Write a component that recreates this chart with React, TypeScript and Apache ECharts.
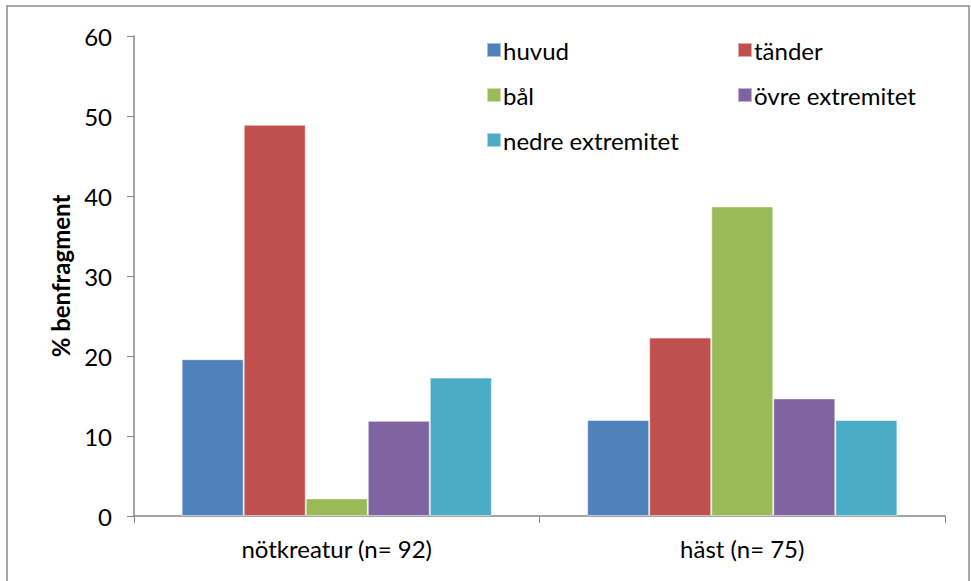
import React, { useEffect, useRef } from "react";
import * as echarts from "echarts";

const categories = ["nötkreatur (n= 92)", "häst (n= 75)"];
const seriesNames = ["huvud", "tänder", "bål", "övre extremitet", "nedre extremitet"];
const huvud = [19.6, 12.0];
const tander = [48.9, 22.3];
const bal = [2.2, 38.7];
const ovre = [11.9, 14.7];
const nedre = [17.3, 12.0];
const colors = ["#4F81BD", "#C0504D", "#9BBB59", "#8064A2", "#4BACC6"];
const yTicks = { min: 0, max: 60, interval: 10 };

const FONT = "Lato";
const FS = 24;

export default function App() {
  const ref = useRef<HTMLDivElement>(null);
  useEffect(() => {
    if (!ref.current) return;
    const chart = echarts.init(ref.current, null, { renderer: "svg" });
    const values = [huvud, tander, bal, ovre, nedre];
    const legendText = { fontSize: FS, fontFamily: FONT, color: "#000", lineHeight: 24, padding: [0, 0, 0, -3] };
    chart.setOption({
      animation: false,
      backgroundColor: "#fff",
      color: colors,
      graphic: [
        {
          type: "rect",
          shape: { x: 7, y: 6, width: 962, height: 600 },
          style: { fill: "none", stroke: "#8c8c8c", lineWidth: 1.5 },
          silent: true,
          z: -10,
        },
      ],
      grid: { left: 134, right: 26, top: 36, bottom: 65, containLabel: false },
      legend: [
        {
          orient: "vertical",
          left: 481,
          top: 33,
          itemWidth: 14,
          itemHeight: 14,
          itemGap: 21,
          icon: "rect",
          data: [seriesNames[0], seriesNames[2], seriesNames[4]],
          textStyle: legendText,
        },
        {
          orient: "vertical",
          left: 732,
          top: 33,
          itemWidth: 14,
          itemHeight: 14,
          itemGap: 21,
          icon: "rect",
          data: [seriesNames[1], seriesNames[3]],
          textStyle: legendText,
        },
      ],
      xAxis: {
        type: "category",
        data: categories,
        axisLine: { lineStyle: { color: "#868686", width: 1.5 } },
        axisTick: { show: true, length: 7, interval: 0, lineStyle: { color: "#868686" } },
        axisLabel: { fontSize: FS, fontFamily: FONT, color: "#000", margin: 20 },
      },
      yAxis: {
        type: "value",
        min: yTicks.min,
        max: yTicks.max,
        interval: yTicks.interval,
        name: "% benfragment",
        nameLocation: "middle",
        nameRotate: 90,
        nameGap: 62,
        nameTextStyle: { fontSize: FS, fontWeight: "bold", fontFamily: FONT, color: "#000" },
        axisLine: { show: true, lineStyle: { color: "#868686", width: 1.5 } },
        axisTick: { show: true, length: 7, lineStyle: { color: "#868686" } },
        axisLabel: { fontSize: FS, fontFamily: FONT, color: "#000", margin: 22 },
        splitLine: { show: false },
      },
      series: seriesNames.map((name, i) => ({
        name,
        type: "bar",
        data: values[i],
        barGap: "0%",
        barCategoryGap: "23.5%",
        itemStyle: { color: colors[i], borderColor: "rgba(255,255,255,0.5)", borderWidth: 1 },
      })),
    });
    return () => chart.dispose();
  }, []);
  return <div ref={ref} style={{ width: 971, height: 581, position: "absolute", left: 0, top: 0 }} />;
}
